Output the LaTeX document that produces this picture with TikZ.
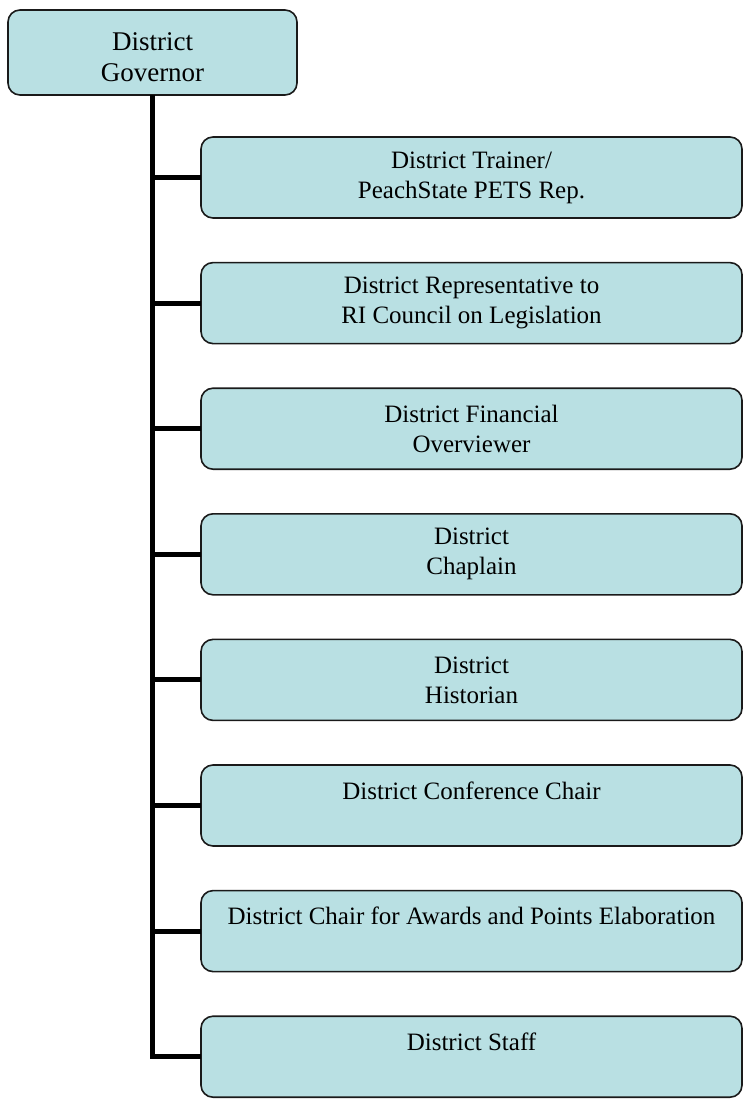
\documentclass[tikz,border=0pt]{standalone}
\usepackage{fontspec}
\setmainfont{Liberation Serif}
\usepackage{tikz}
\usetikzlibrary{
  positioning,
  calc
}
\definecolor{dgFill}{HTML}{B9E0E3}
\definecolor{dgLine}{HTML}{1A1A1A}
\tikzset{
  dgnode/.style={
    draw=dgLine, fill=dgFill, rounded corners=12pt, line width=1.6pt,
    align=center, outer sep=0pt, inner sep=0pt
  },
  govbox/.style={dgnode, minimum width=289pt, minimum height=85pt,
    text height=59pt, font=\fontsize{27}{31}\selectfont},
  rolebox/.style={dgnode, minimum width=541pt, minimum height=81pt,
    font=\fontsize{25}{30}\selectfont},
  trunk/.style={line width=5pt, black},
  branch/.style={line width=5pt, black}
}

\begin{document}
\begin{tikzpicture}[x=1pt, y=1pt, node distance=44.6pt]
  \useasboundingbox (0,0) rectangle (743,-1099);
  % governor and roles
  \node[govbox] (gov) at (152.5,-52.5) {District\\Governor};
  \node[rolebox, anchor=north west] (r1) at (201,-137) {District Trainer/\\PeachState PETS Rep.};
  \node[rolebox, below=of r1] (r2) {District Representative to\\RI Council on Legislation};
  \node[rolebox, below=of r2] (r3) {District Financial\\Overviewer};
  \node[rolebox, below=of r3] (r4) {District\\Chaplain};
  \node[rolebox, below=of r4] (r5) {District\\Historian};
  \node[rolebox, below=of r5] (r6) {District Conference Chair\\\mbox{}};
  \node[rolebox, below=of r6] (r7) {District Chair for Awards and Points Elaboration\\\mbox{}};
  \node[rolebox, below=of r7] (r8) {District Staff\\\mbox{}};
  % connectors
  \draw[trunk] (gov.south) |- (r8.west);
  \draw[branch] (gov.south |- r1.west) -- (r1.west);
  \draw[branch] (gov.south |- r2.west) -- (r2.west);
  \draw[branch] (gov.south |- r3.west) -- (r3.west);
  \draw[branch] (gov.south |- r4.west) -- (r4.west);
  \draw[branch] (gov.south |- r5.west) -- (r5.west);
  \draw[branch] (gov.south |- r6.west) -- (r6.west);
  \draw[branch] (gov.south |- r7.west) -- (r7.west);
\end{tikzpicture}
\end{document}
